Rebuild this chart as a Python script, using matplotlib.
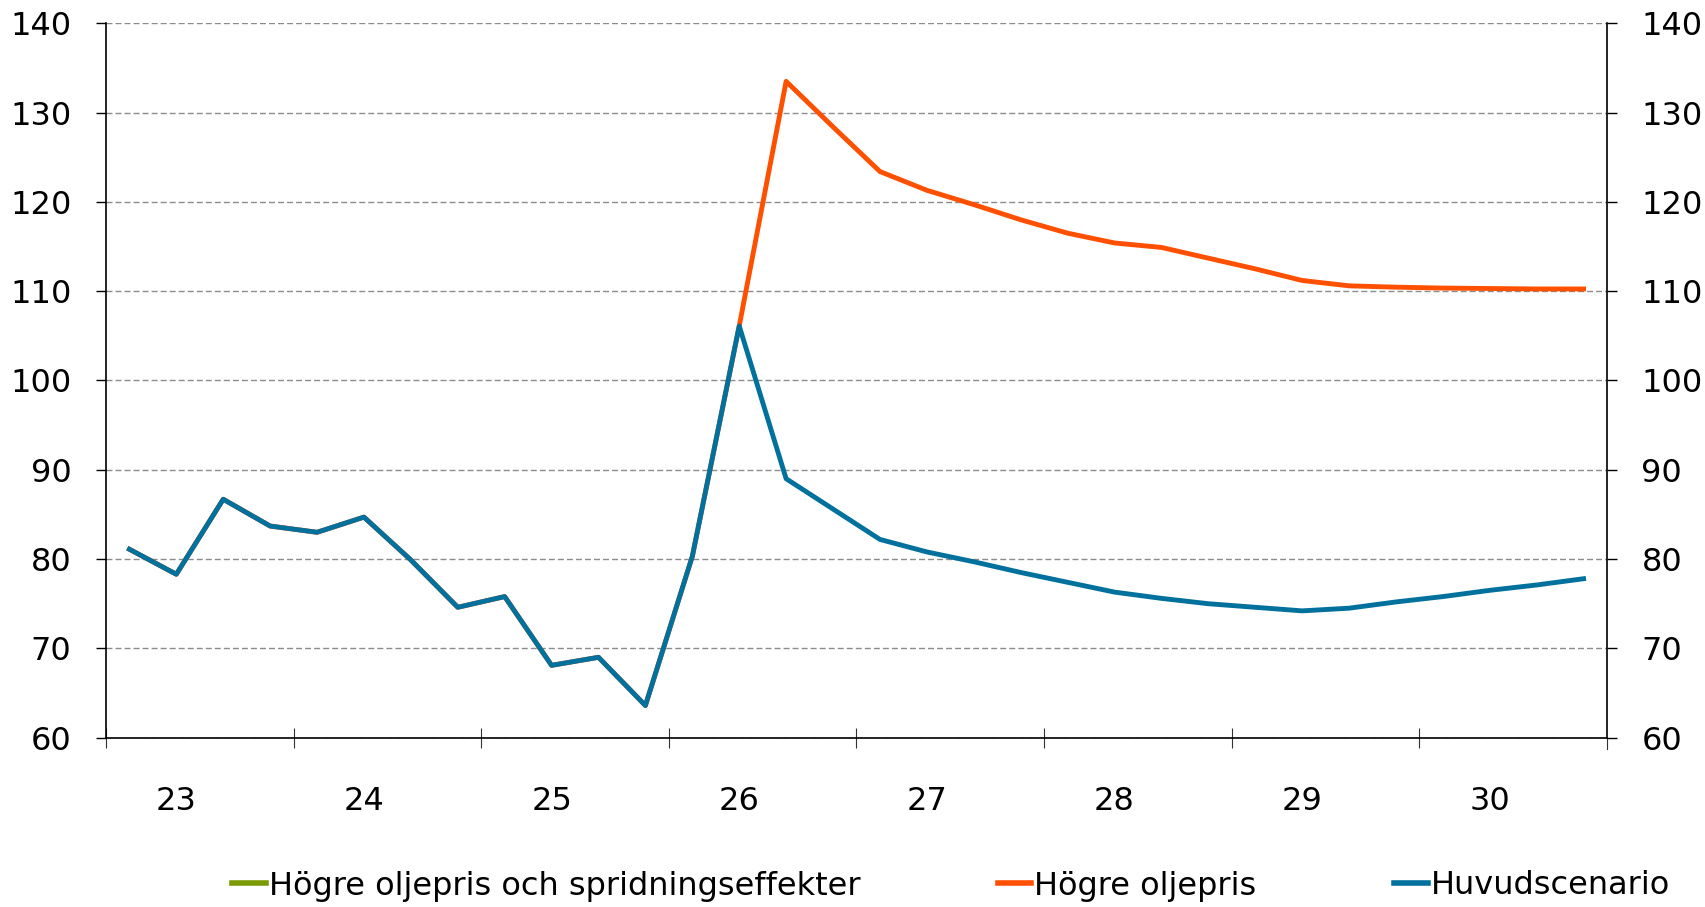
import numpy as np
import matplotlib
matplotlib.use("Agg")
import matplotlib.pyplot as plt

# quarterly values 2023 Q1 .. 2030 Q4
history = [81.1, 78.3, 86.7, 83.7, 83.0, 84.7, 79.9, 74.6, 75.8, 68.1,
           69.0, 63.6, 80.3, 106.1]
huvud_future = [89.0, 85.6, 82.2, 80.8, 79.7, 78.5, 77.4, 76.3, 75.6, 75.0,
                74.6, 74.2, 74.5, 75.2, 75.8, 76.5, 77.1, 77.8]
hogre_future = [133.5, 128.4, 123.4, 121.3, 119.7, 118.0, 116.5, 115.4, 114.9,
                113.7, 112.5, 111.2, 110.6, 110.45, 110.35, 110.3, 110.25, 110.25]
year_labels = ["23", "24", "25", "26", "27", "28", "29", "30"]

huvud = np.array(history + huvud_future)
hogre = np.array(history + hogre_future)
spridning = np.full(len(huvud), np.nan)  # no visible line in the chart

n = len(huvud)
x = 0.125 + 0.25 * np.arange(n)

plt.rcParams['font.family'] = ['DejaVu Sans']
fs_tick = 23
fs_leg = 23

fig = plt.figure(figsize=(17.06, 9.07), dpi=100)
ax = fig.add_axes([0.0621, 0.1867, 0.942 - 0.0621, 0.9743 - 0.1867])

lw = 3.5
ax.plot(x, spridning, color='#7A9A01', lw=lw, label='Högre oljepris och spridningseffekter')
ax.plot(x, hogre, color='#FF5000', lw=lw, label='Högre oljepris')
ax.plot(x, huvud, color='#00709C', lw=lw, label='Huvudscenario')

ax.set_xlim(0, len(year_labels))
ax.set_ylim(60, 140)
ax.set_yticks(np.arange(60, 141, 10))
ax.yaxis.grid(True, color='#8c8c8c', lw=1.0, linestyle=(0, (4.3, 2.2)))
ax.set_axisbelow(True)

# ticks at year boundaries, labels under the second quarter (Excel style)
ax.set_xticks(np.arange(0, len(year_labels)))
ax.set_xticklabels([])
ax.set_xticks(np.arange(len(year_labels)) + 0.375, minor=True)
ax.set_xticklabels(year_labels, minor=True)
ax.tick_params(axis='x', which='major', direction='inout', length=15, width=0.8, color='#333333')
ax.tick_params(axis='x', which='minor', length=0, pad=35, labelsize=fs_tick)
ax.plot([len(year_labels)] * 2, [0, -0.016], transform=ax.get_xaxis_transform(),
        color='#333333', lw=0.8, clip_on=False)

ax.tick_params(axis='y', direction='out', length=7.5, width=1.0, pad=17.3, labelsize=fs_tick,
               left=True, right=True, labelleft=True, labelright=True)

ax.spines['top'].set_visible(False)
for s in ['left', 'right', 'bottom']:
    ax.spines[s].set_linewidth(1.2)
    ax.spines[s].set_color('black')

leg = fig.legend(loc='center left', bbox_to_anchor=(232 / 1706, 1 - 886 / 907), ncol=3,
                 frameon=False, fontsize=fs_leg, handlelength=1.05, handletextpad=0.1,
                 columnspacing=4.3, borderpad=0, borderaxespad=0)
for h in leg.get_lines():
    h.set_linewidth(4)

fig.savefig('out.png', dpi=100)
